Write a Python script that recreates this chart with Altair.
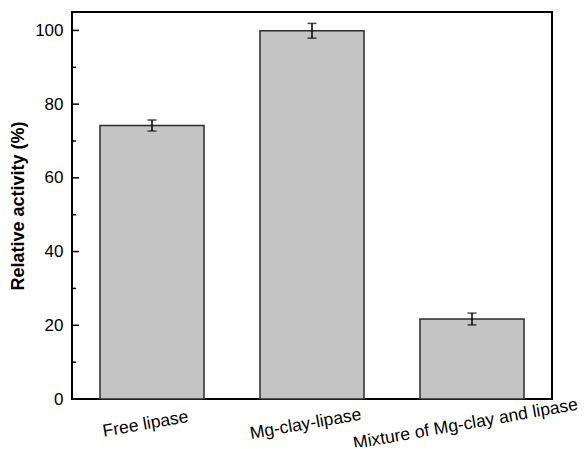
import altair as alt
import pandas as pd

categories = ["Free lipase", "Mg-clay-lipase", "Mixture of Mg-clay and lipase"]
activity = [74.2, 99.9, 21.7]
errors = [1.5, 2.0, 1.6]
major_ticks = [0, 20, 40, 60, 80, 100]
minor_ticks = [10, 30, 50, 70, 90]

df = pd.DataFrame({"cat": categories, "val": activity, "err": errors})
df["lo"] = df["val"] - df["err"]
df["hi"] = df["val"] + df["err"]

FONT = "Liberation Sans"
yscale = alt.Scale(domain=[0, 105], nice=False, zero=True)
xscale = alt.Scale(paddingInner=0, paddingOuter=0)

xenc = alt.X(
    "cat:N", sort=categories, scale=xscale,
    axis=alt.Axis(title=None, labelAngle=-10, labelAlign="center", labelBaseline="top",
                  ticks=False, domain=False, labelPadding=16, labelFontSize=17.5,
                  labelOffset=-8, labelLimit=0, labelColor="black", labelFont=FONT),
)

bars = alt.Chart(df).mark_bar(
    width={"band": 0.65}, color="#c4c4c4", stroke="#2b2b2b", strokeWidth=1.5
).encode(
    x=xenc,
    y=alt.Y("val:Q", scale=yscale,
            axis=alt.Axis(title="Relative activity (%)", values=major_ticks, ticks=False,
                          domain=False, grid=False, labelFontSize=17, labelFont=FONT,
                          labelColor="black", labelPadding=9, titleFontSize=18,
                          titleFont=FONT, titleFontWeight="bold", titleColor="black",
                          titlePadding=7)),
)

err_rule = alt.Chart(df).mark_rule(color="black", strokeWidth=1.5).encode(
    x=alt.X("cat:N", sort=categories, scale=xscale),
    y=alt.Y("lo:Q", scale=yscale),
    y2="hi:Q",
)
cap_lo = alt.Chart(df).mark_tick(color="black", size=9, thickness=1.5).encode(
    x=alt.X("cat:N", sort=categories, scale=xscale),
    y=alt.Y("lo:Q", scale=yscale),
)
cap_hi = alt.Chart(df).mark_tick(color="black", size=9, thickness=1.5).encode(
    x=alt.X("cat:N", sort=categories, scale=xscale),
    y=alt.Y("hi:Q", scale=yscale),
)

yticks_major = alt.Chart(pd.DataFrame({"v": major_ticks})).mark_rule(
    color="black", strokeWidth=1.5).encode(
    y=alt.Y("v:Q", scale=yscale), x=alt.value(0), x2=alt.value(7))
yticks_minor = alt.Chart(pd.DataFrame({"v": minor_ticks})).mark_rule(
    color="black", strokeWidth=1.5).encode(
    y=alt.Y("v:Q", scale=yscale), x=alt.value(0), x2=alt.value(4))

chart = alt.layer(bars, err_rule, cap_lo, cap_hi, yticks_major, yticks_minor).properties(
    width=480, height=387,
    background="white",
    autosize=alt.AutoSizeParams(type="none"),
    padding={"left": 64, "top": 4, "right": 28, "bottom": 48},
).configure_view(stroke="black", strokeWidth=2)

chart.save("out.html", embed_options={"renderer": "svg", "actions": False})
